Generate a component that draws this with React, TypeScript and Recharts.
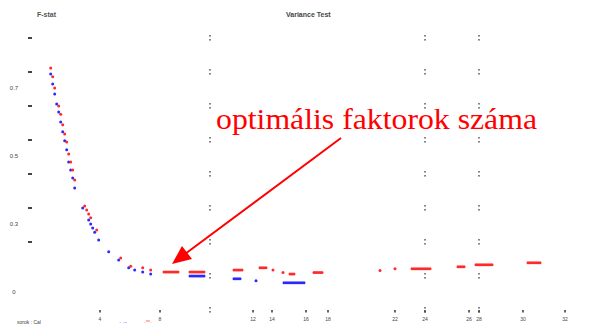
import React from "react";
import {
  ScatterChart,
  Scatter,
  XAxis,
  YAxis,
  ReferenceDot,
} from "recharts";

// Red series (validation) – factor index vs. value
const redX = [
  2.07, 2.27, 2.47, 2.87, 3.07, 3.27, 3.47, 3.67, 3.87, 4.07, 4.27, 4.47,
  5.47, 5.67, 5.87, 6.07, 6.67, 9.07, 10.07, 11.27, 12.07,
  13.4, 13.6, 13.8, 14.0, 14.2, 14.4, 14.6, 14.8,
  16.0, 16.2, 16.4, 16.6, 16.8, 17.0, 17.2, 17.4,
  20.4, 20.6, 20.8, 21.0, 21.2,
  23.0, 23.2, 23.4, 23.6,
  24.3, 25.3,
  26.0, 26.2, 26.4,
  28.4, 28.6, 28.8, 29.0, 29.2,
  35.0, 36.5,
  38.2, 38.4, 38.6, 38.8, 39.0, 39.2, 39.4, 39.6, 39.8, 40.0,
  42.8, 43.0, 43.2, 43.4,
  44.6, 44.8, 45.0, 45.2, 45.4, 45.6, 45.8, 46.0, 46.2,
  49.8, 50.0, 50.2, 50.4, 50.6, 50.8, 51.0,
];
const redY = [
  7.12, 6.86, 6.53, 6.0, 5.76, 5.45, 5.18, 4.94, 4.59, 4.35, 4.12, 3.82,
  3.06, 2.94, 2.82, 2.71, 2.35, 1.53, 1.29, 1.24, 1.18,
  1.12, 1.12, 1.12, 1.12, 1.12, 1.12, 1.12, 1.12,
  1.12, 1.12, 1.12, 1.12, 1.12, 1.12, 1.12, 1.12,
  1.18, 1.18, 1.18, 1.18, 1.18,
  1.24, 1.24, 1.24, 1.24,
  1.18, 1.1,
  1.06, 1.06, 1.06,
  1.1, 1.1, 1.1, 1.1, 1.1,
  1.16, 1.21,
  1.21, 1.21, 1.21, 1.21, 1.21, 1.21, 1.21, 1.21, 1.21, 1.21,
  1.27, 1.27, 1.27, 1.27,
  1.33, 1.33, 1.33, 1.33, 1.33, 1.33, 1.33, 1.33, 1.33,
  1.39, 1.39, 1.39, 1.39, 1.39, 1.39, 1.39,
];

// Blue series (calibration)
const blueX = [
  2.07, 2.27, 2.47, 2.67, 2.87, 3.07, 3.27, 3.47, 3.67, 3.87, 4.07, 4.27, 4.47,
  5.27, 5.87, 6.07, 6.27, 6.47, 6.87, 7.87, 8.87, 9.87, 10.47, 11.27, 12.07,
  16.0, 16.2, 16.4, 16.6, 16.8, 17.0, 17.2, 17.4,
  20.4, 20.6, 20.8, 21.0,
  22.6,
  25.4, 25.6, 25.8, 26.0, 26.2, 26.4, 26.6, 26.8, 27.0, 27.2, 27.4,
];
const blueY = [
  6.94, 6.65, 6.35, 6.06, 5.82, 5.53, 5.24, 4.98, 4.71, 4.35, 4.12, 3.88, 3.59,
  3.0, 2.65, 2.53, 2.41, 2.29, 2.06, 1.71, 1.47, 1.24, 1.18, 1.12, 1.06,
  1.0, 1.0, 1.0, 1.0, 1.0, 1.0, 1.0, 1.0,
  0.92, 0.92, 0.92, 0.92,
  0.86,
  0.8, 0.8, 0.8, 0.8, 0.8, 0.8, 0.8, 0.8, 0.8, 0.8, 0.8,
];

const yTicks = [0, 1, 2, 3, 4, 5, 6, 7, 8];
const yTickMarks = [2, 3, 4, 5, 6, 7, 8];
const yLabelTicks: Record<number, string> = { 7: "0.7", 5: "0.5", 3: "0.3", 1: "0" };
const xTicks = [7, 13, 22.3, 24.2, 27.6, 29.8, 36.5, 39.5, 43.9, 44.9, 49.3, 53.5];
const xTickLabels = ["4", "8", "12", "14", "16", "18", "22", "24", "26", "28", "30", "32"];
const gridX = [18.0, 39.5, 44.9];
const gridY = [0, 1, 2, 3, 4, 5, 6, 7, 8];

const redData = redX.map((x, i) => ({ x, y: redY[i] }));
const blueData = blueX.map((x, i) => ({ x, y: blueY[i] }));

const RED = "#ff2a2a";
const BLUE = "#2a2aff";
const GRAY = "#6a6a6a";

const dot = (color: string) => (props: any) =>
  <circle cx={props.cx} cy={props.cy} r={1.5} fill={color} />;

const GridMark = (props: any) => (
  <g>
    <rect x={props.cx - 0.8} y={props.cy - 3} width={1.6} height={1.6} fill={GRAY} />
    <rect x={props.cx - 0.8} y={props.cy + 1} width={1.6} height={1.6} fill={GRAY} />
  </g>
);

const YTick = (props: any) => {
  const { x, y, payload } = props;
  const v = payload.value;
  return (
    <g>
      {yTickMarks.includes(v) && (
        <rect x={x - 2} y={y - 1} width={4} height={2} fill="#444" />
      )}
      {yLabelTicks[v] !== undefined && (
        <text x={x - 16} y={y + 18} fontSize={6} fill="#444" textAnchor="middle" fontFamily="Arial">
          {yLabelTicks[v]}
        </text>
      )}
    </g>
  );
};

const XTick = (props: any) => {
  const { x, y, index } = props;
  return (
    <g>
      <rect x={x - 0.8} y={y} width={1.6} height={2.5} fill="#444" />
      <text x={x} y={y + 11} fontSize={5} fill="#444" textAnchor="middle" fontFamily="Arial">
        {xTickLabels[index]}
      </text>
    </g>
  );
};

export default function App() {
  return (
    <div
      style={{
        position: "absolute",
        left: 0,
        top: 0,
        width: 599,
        height: 327,
        background: "#fff",
        overflow: "hidden",
      }}
    >
      <ScatterChart
        width={599}
        height={327}
        margin={{ top: 21, right: 9, bottom: 0, left: 0 }}
      >
        <XAxis
          type="number"
          dataKey="x"
          domain={[0, 56]}
          ticks={xTicks}
          interval={0}
          axisLine={false}
          tickLine={false}
          tickSize={0}
          tickMargin={0}
          height={17}
          tick={<XTick />}
        />
        <YAxis
          type="number"
          dataKey="y"
          domain={[0, 8.5]}
          ticks={yTicks}
          interval={0}
          axisLine={false}
          tickLine={false}
          tickSize={0}
          tickMargin={0}
          width={30}
          tick={<YTick />}
        />
        {gridX.map((gx) =>
          gridY.map((gy) => (
            <ReferenceDot
              key={`${gx}-${gy}`}
              x={gx}
              y={gy}
              ifOverflow="visible"
              shape={<GridMark />}
            />
          ))
        )}
        <Scatter data={blueData} fill={BLUE} shape={dot(BLUE)} isAnimationActive={false} />
        <Scatter data={redData} fill={RED} shape={dot(RED)} isAnimationActive={false} />
      </ScatterChart>

      <svg
        width={599}
        height={327}
        style={{ position: "absolute", left: 0, top: 0, pointerEvents: "none" }}
      >
        <text x={37} y={17} fontSize={7} fill="#555" fontFamily="Arial" fontWeight="bold">
          F-stat
        </text>
        <text x={286} y={17} fontSize={7} fill="#444" fontFamily="Arial" fontWeight="bold">
          Variance Test
        </text>
        <text
          x={216}
          y={129}
          fontSize={30}
          fill="#ff0000"
          fontFamily="'Liberation Serif', 'Times New Roman', serif"
          textLength={321}
          lengthAdjust="spacingAndGlyphs"
        >
          optimális faktorok száma
        </text>
        <line x1={341} y1={138} x2={185} y2={254} stroke="#ff0000" strokeWidth={2} />
        <polygon points="172,264 182,246 192,259" fill="#ff0000" />
        <text x={17} y={324} fontSize={5} fill="#444" fontFamily="Arial">
          sorok : Cal
        </text>
        <text x={119} y={324} fontSize={6} fill={BLUE} fontFamily="Arial">
          · ·-
        </text>
        <text x={144} y={324} fontSize={6} fill={RED} fontFamily="Arial">
          ·ᵛᵛ·
        </text>
      </svg>
    </div>
  );
}
